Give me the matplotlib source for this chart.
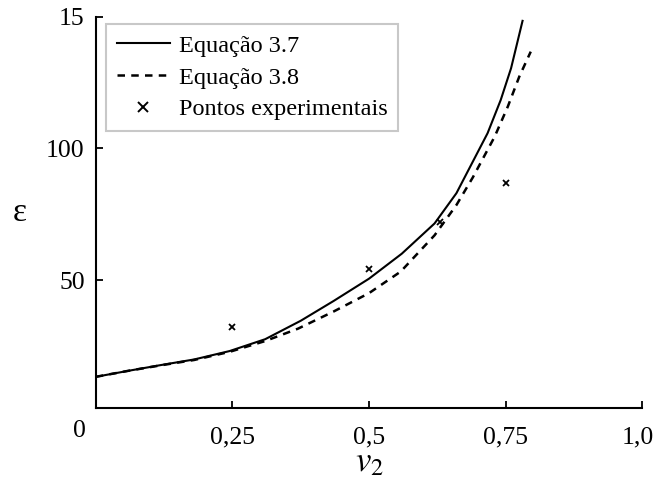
import numpy as np
import matplotlib
matplotlib.use('Agg')
import matplotlib.pyplot as plt
import matplotlib.transforms as mtransforms
from matplotlib.lines import Line2D

plt.rcParams['font.family'] = ['Liberation Serif', 'DejaVu Serif']
plt.rcParams['mathtext.fontset'] = 'stix'

# curves
x_eq37 = [0, 0.06, 0.12, 0.18, 0.245, 0.31, 0.375, 0.435, 0.5, 0.56, 0.62, 0.66,
          0.69, 0.717, 0.741, 0.76, 0.781]
y_eq37 = [13.2, 15.5, 17.7, 19.8, 23, 27.5, 34.5, 42, 50.5, 60, 71.5, 83,
          95, 105.8, 118.4, 130.5, 148.5]

x_eq38 = [0, 0.06, 0.12, 0.18, 0.245, 0.31, 0.37, 0.435, 0.5, 0.558, 0.62, 0.66,
          0.69, 0.73, 0.754, 0.775, 0.796]
y_eq38 = [13.2, 15.5, 17.6, 19.6, 22.7, 26.8, 31.5, 38, 45, 53.2, 67, 78.5,
          89, 104.5, 115.9, 127.3, 136.8]

x_exp = [0.25, 0.5, 0.63, 0.75]
y_exp = [32, 54, 72, 87]

xticks = [0.25, 0.5, 0.75, 1.0]
xticklabels = ['0,25', '0,5', '0,75', '1,0']
yticks = [50, 100, 150]
yticklabels = ['50', '100', '15']

fig = plt.figure(figsize=(6.56, 4.83), dpi=100)
ax = fig.add_axes([0.146, 0.155, 0.833, 0.81])

l1, = ax.plot(x_eq37, y_eq37, color='black', lw=1.5)
l2, = ax.plot(x_eq38, y_eq38, color='black', lw=1.8, linestyle=(0, (3, 2.5)))
ax.plot(x_exp, y_exp, linestyle='none', marker='x', color='black', ms=5, mew=1.3)

ax.set_xlim(0, 1.0)
ax.set_ylim(1.3, 150)
ax.spines['top'].set_visible(False)
ax.spines['right'].set_visible(False)
for s in ['left', 'bottom']:
    ax.spines[s].set_linewidth(1.5)

ax.set_xticks(xticks)
ax.set_xticklabels(xticklabels)
ax.set_yticks(yticks)
ax.set_yticklabels(yticklabels)
ax.tick_params(axis='both', direction='in', length=5, width=1.3, labelsize=18.5)
ax.tick_params(axis='x', pad=13)
ax.tick_params(axis='y', pad=8)

# keep the last x label inside the figure
last = ax.get_xticklabels()[-1]
last.set_transform(last.get_transform() + mtransforms.ScaledTranslation(-3 / 72, 0, fig.dpi_scale_trans))

ax.text(-0.029, -0.058, '0', transform=ax.transAxes, ha='center', va='center', fontsize=18.5)

ax.set_ylabel('ε', fontsize=24, rotation=0, va='center', ha='center')
ax.yaxis.set_label_coords(-0.139, 0.5)
ax.set_xlabel(r'$v_2$', fontsize=25, va='center')
ax.xaxis.set_label_coords(0.5, -0.14)

# legend marker drawn bigger than the data markers, as in the source
exp_handle = Line2D([], [], linestyle='none', marker='x', color='black', ms=7.5, mew=1.4)
leg = ax.legend([l1, l2, exp_handle], ['Equação 3.7', 'Equação 3.8', 'Pontos experimentais'],
                loc='upper left', bbox_to_anchor=(0.018, 0.982), borderaxespad=0,
                fontsize=17.5, frameon=True, fancybox=False, handlelength=2.2,
                handletextpad=0.35, labelspacing=0.4, borderpad=0.45)
leg.get_frame().set_edgecolor('#bbbbbb')
leg.get_frame().set_linewidth(1.5)

fig.savefig('out.png', dpi=100)
